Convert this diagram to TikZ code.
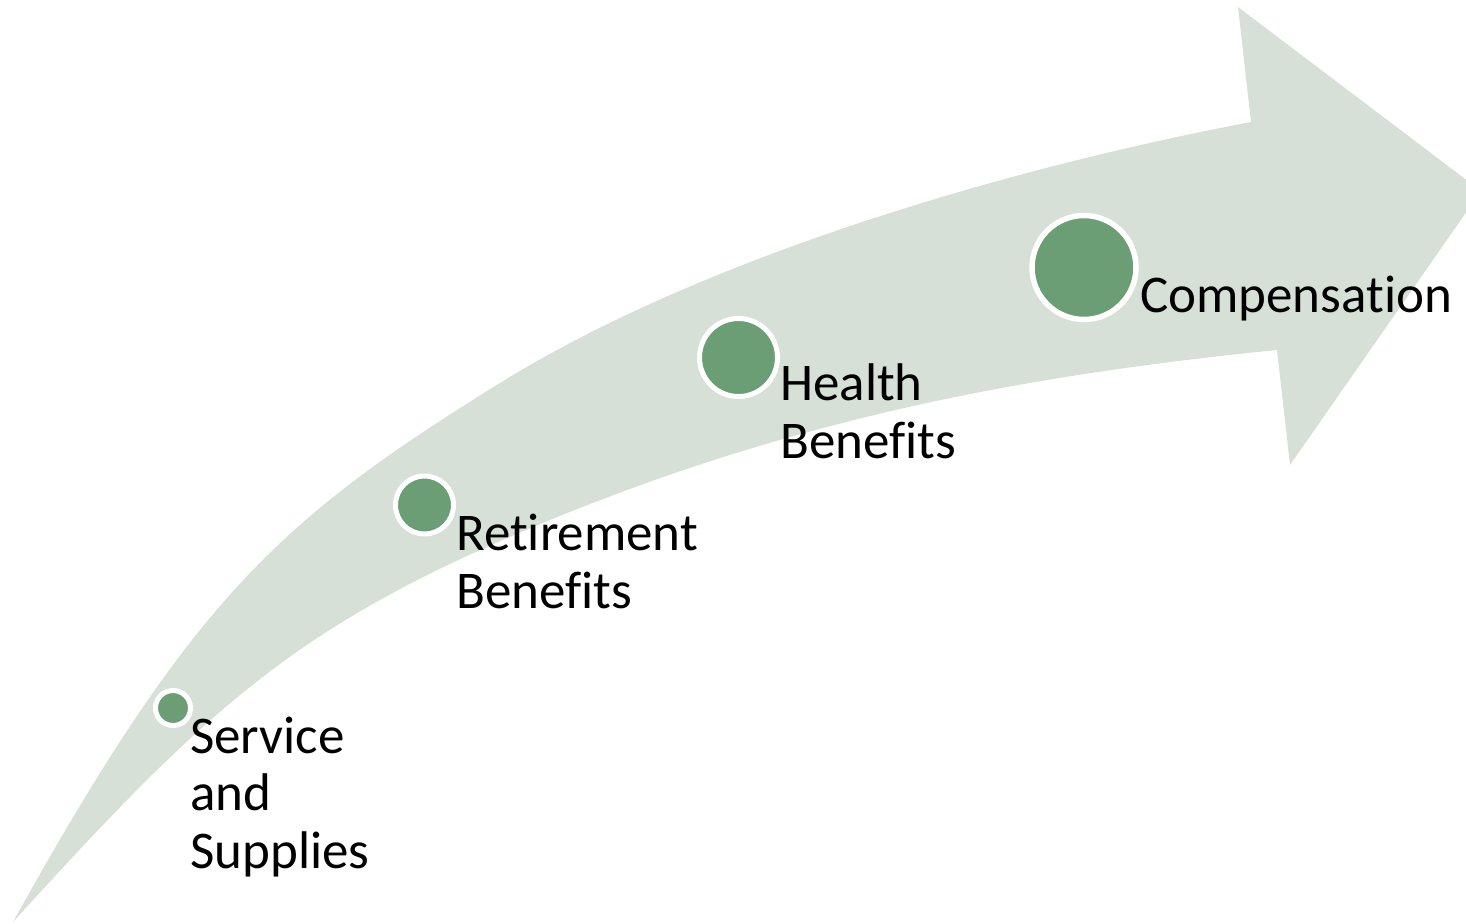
\documentclass[tikz,border=0pt]{standalone}
\usepackage{fontspec}
\setmainfont{Carlito}[Ligatures=NoCommon]
\definecolor{arrowfill}{RGB}{214,224,214}
\definecolor{dotgreen}{RGB}{107,158,116}
\begin{document}
\begin{tikzpicture}[x=1pt,y=-1pt,
  dot/.style={circle,fill=dotgreen,draw=white,inner sep=0pt},
  lbl/.style={anchor=base west,inner sep=0pt,align=left,font=\fontsize{53}{57.5}\selectfont}]
\useasboundingbox (0,0) rectangle (1466,923);
\begin{scope}
\clip (0,0) rectangle (1466,923);
\fill[arrowfill] (13,922) .. controls (193,598) and (280,519) .. (500,383)
  .. controls (700,259) and (1001,169.5) .. (1251,122)
  -- (1238,7) -- (1481,191) -- (1290,465) -- (1277,350)
  .. controls (1027,375) and (800,417.5) .. (550,520)
  .. controls (300,622.5) and (213,702) .. (13,922) -- cycle;
\end{scope}
\node[dot,minimum size=35pt,line width=5pt] (c1) at (173,708) {};
\node[dot,minimum size=58pt,line width=5pt] (c2) at (424.5,505) {};
\node[dot,minimum size=78pt,line width=5pt] (c3) at (738.5,357.5) {};
\node[dot,minimum size=104pt,line width=5.5pt] (c4) at (1084,267.5) {};
\node[lbl] (t1) at (190,868) {Service\\and\\Supplies};
\node[lbl] (t2) at (456,608) {Retirement\\Benefits};
\node[lbl] (t3) at (780,458) {Health\\Benefits};
\node[lbl] (t4) at (1140,312) {Compensation};
\end{tikzpicture}
\end{document}
